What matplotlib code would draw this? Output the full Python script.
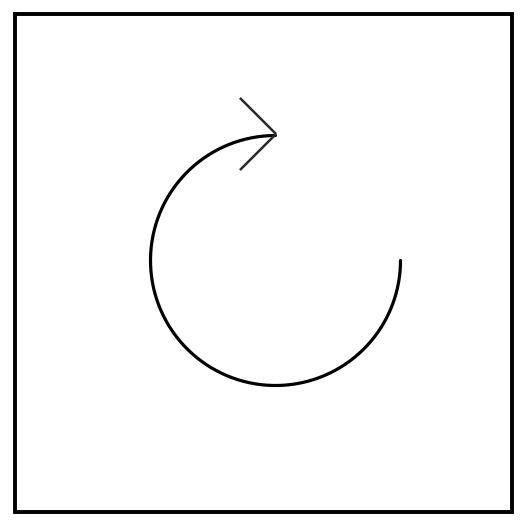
import numpy as np
import matplotlib
matplotlib.use("Agg")
import matplotlib.pyplot as plt

# canvas in pixels
W, H = 530, 528

# frame box (left, top, right, bottom)
frame = [14.5, 13.5, 511.5, 511.5]

# circular arc: centre, radius, start / end angle (deg, y up)
center = (275.5, 260.5)
radius = 125
arc_start, arc_end = 90, 360

# arrow head at top of the arc
tip = (276, 134)
arm_len = 51
arm_angles = [135, 225]

fig = plt.figure(figsize=(W / 100, H / 100), dpi=100)
ax = fig.add_axes([0, 0, 1, 1])
ax.set_xlim(0, W)
ax.set_ylim(H, 0)
ax.axis("off")

# frame
l, t, r, b = frame
ax.plot([l, r, r, l, l], [t, t, b, b, t], color="black", lw=2.8,
        solid_joinstyle="miter")

# arc (flip y because axis is inverted)
th = np.radians(np.linspace(arc_start, arc_end, 400))
ax.plot(center[0] + radius * np.cos(th), center[1] - radius * np.sin(th),
        color="black", lw=2.3, solid_capstyle="round")

# arrow head
for a in arm_angles:
    ax.plot([tip[0], tip[0] + arm_len * np.cos(np.radians(a))],
            [tip[1], tip[1] - arm_len * np.sin(np.radians(a))],
            color="#2a2a2a", lw=1.8, solid_capstyle="butt")

fig.savefig("out.png", dpi=100, facecolor="white")
